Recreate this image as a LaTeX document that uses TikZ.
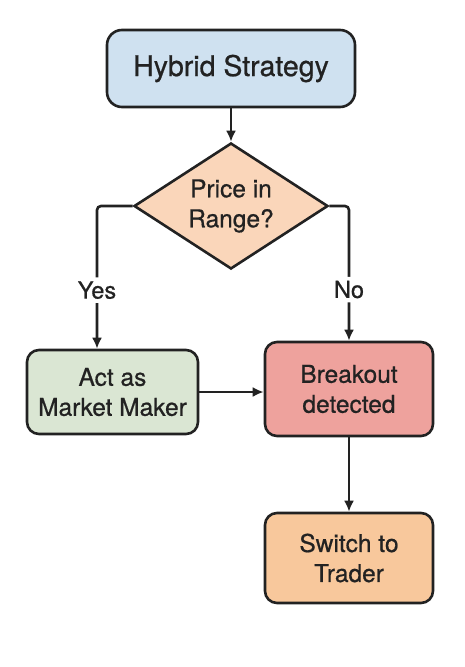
\documentclass[tikz,border=0pt]{standalone}
\usepackage{fontspec}
\setmainfont{TeX Gyre Heros}[BoldFont={TeX Gyre Heros}, BoldFeatures={FakeBold=0.7}]
\usetikzlibrary{positioning,arrows.meta,shapes.geometric}
\definecolor{inkline}{HTML}{222222}
\definecolor{hybridfill}{HTML}{CFE1F0}
\definecolor{choicefill}{HTML}{FAD6BA}
\definecolor{makerfill}{HTML}{DAE6D3}
\definecolor{breakfill}{HTML}{EEA29D}
\definecolor{traderfill}{HTML}{F8C89C}
\tikzset{
  flowarrow/.style={-{Latex[length=11pt,width=10pt]}, line width=2.6pt, draw=inkline, rounded corners=4pt},
  stepbox/.style={draw=inkline, line width=2.6pt, rounded corners=12pt, align=center, text=inkline, font=\fontsize{24.5}{30}\selectfont\bfseries},
  startbox/.style={stepbox, rounded corners=15pt, fill=hybridfill, minimum width=248pt, minimum height=77pt, font=\fontsize{28.5}{32}\selectfont\bfseries},
  choicenode/.style={draw=inkline, line width=2.6pt, diamond, aspect=1.54, inner sep=0pt, fill=choicefill, minimum width=194pt, minimum height=126pt, align=center, text=inkline, font=\fontsize{24.5}{30}\selectfont\bfseries},
  relabel/.style={fill=white, inner sep=4pt, text=inkline, font=\fontsize{23.5}{28}\selectfont\bfseries}
}
\begin{document}
\begin{tikzpicture}[>=Latex, x=1pt, y=-1pt]
  \fill[white] (0,0) rectangle (464,667);
  \useasboundingbox (0,0) rectangle (464,667);
  \node[startbox] (hybrid) at (231,68.5) {Hybrid Strategy};
  \node[choicenode] (choice) at (231,206) {Price in\\Range?};
  \node[stepbox, fill=makerfill, minimum width=171pt, minimum height=84pt] (maker) at (112.5,392) {Act as\\Market Maker};
  \node[stepbox, fill=breakfill, minimum width=168pt, minimum height=94pt] (breakout) at (349,389) {Breakout\\detected};
  \node[stepbox, fill=traderfill, minimum width=168pt, minimum height=90pt] (trader) at (349,558) {Switch to\\Trader};
  \draw[flowarrow] (hybrid) -- (choice);
  \draw[flowarrow] (choice.west) -| node[relabel, pos=0.795] {Yes} ([xshift=-15.5pt]maker.north);
  \draw[flowarrow] (choice.east) -| node[relabel, pos=0.81] {No} (breakout.north);
  \draw[flowarrow] (maker.east) -- (maker.east -| breakout.west);
  \draw[flowarrow] (breakout.south) -- (trader.north);
\end{tikzpicture}
\end{document}
